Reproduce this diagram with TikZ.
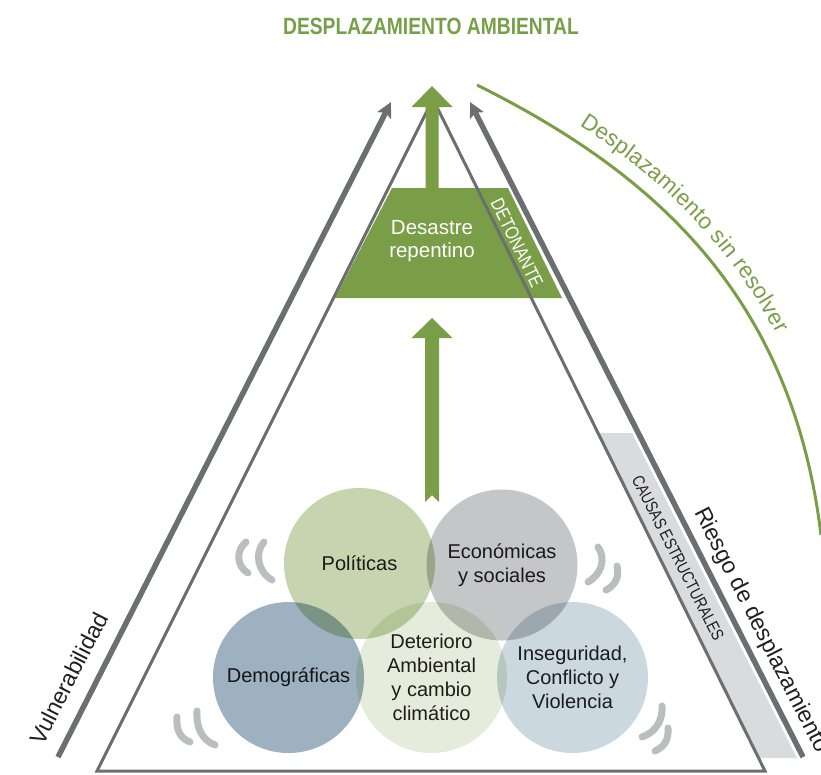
\documentclass[tikz,border=0pt]{standalone}
\usepackage{fontspec}
\setmainfont{Liberation Sans}
\newfontfamily\condfont[FakeStretch=0.82]{Liberation Sans}
\usetikzlibrary{arrows.meta,decorations.text}
\definecolor{mygreen}{RGB}{122,158,72}
\definecolor{titlegreen}{RGB}{118,160,72}
\definecolor{dgray}{RGB}{109,110,114}
\definecolor{markgray}{RGB}{188,189,191}
\definecolor{stripgray}{RGB}{218,219,220}
\definecolor{txt}{RGB}{35,31,32}
\definecolor{cpol}{RGB}{198,213,176}
\definecolor{ceco}{RGB}{197,198,200}
\definecolor{cdem}{RGB}{157,177,192}
\definecolor{cdet}{RGB}{230,236,219}
\definecolor{cins}{RGB}{203,216,224}
\begin{document}
\begin{tikzpicture}[x=1pt,y=-1pt,
  causa/.style={circle, minimum size=151pt, inner sep=0pt, align=center, text=txt, font=\fontsize{20}{24}\selectfont},
  edge/.style={draw=dgray, line width=3pt, line join=miter},
  outerarrow/.style={draw=dgray, line width=5.5pt, -{Stealth[length=15pt,width=15pt,inset=3pt]}},
  markarc/.style={draw=markgray, line width=7pt, line cap=round},
  greenshape/.style={fill=mygreen, draw=none}]
\useasboundingbox (0,0) rectangle (821,774);

% title
\node[font=\condfont\bfseries\fontsize{23.5}{24}\selectfont, text=titlegreen] (title) at (431,26) {DESPLAZAMIENTO AMBIENTAL};

% structural causes strip
\fill[stripgray] (599,433) -- (632,433) -- (797,758) -- (758,758) -- cycle;

% trigger trapezoid
\fill[greenshape] (392,188) -- (508,188) -- (562,298) -- (335,298) -- cycle;

% inner triangle
\coordinate (bl) at (97,771);
\coordinate (apex) at (433,99);
\coordinate (br) at (765,771);
\draw[edge] (bl) -- (apex) -- (br) -- cycle;

% green arrows
\fill[greenshape] (432,86) -- (452.5,107) -- (438.5,107) -- (438.5,190) -- (425.5,190) -- (425.5,107) -- (411.5,107) -- cycle;
\fill[greenshape] (432,318) -- (452.5,338) -- (439,338) -- (439,502) -- (432,495) -- (425,502) -- (425,338) -- (411.5,338) -- cycle;

% outer arrows
\coordinate (vl0) at (58,757);
\coordinate (vl1) at (391,102);
\coordinate (rr0) at (803,757);
\coordinate (rr1) at (470,102);
\draw[outerarrow] (vl0) -- (vl1);
\draw[outerarrow] (rr0) -- (rr1);

% green arc
\coordinate (arc0) at (477,85);
\coordinate (arc1) at (821,535);
\draw[mygreen, line width=3pt] (arc0) .. controls (656,174) and (792,297) .. (arc1);
\path[decorate, decoration={text along path, raise=15pt, text align={left indent=108pt},
  text={|\fontsize{22.5}{22.5}\selectfont\color{mygreen}|Desplazamiento sin resolver}}]
  (arc0) .. controls (656,174) and (792,297) .. (arc1);

% circles
\begin{scope}[blend group=multiply]
\node[causa, fill=cpol] (pol) at (359.5,563.5) {Políticas};
\node[causa, fill=ceco] (eco) at (502,565) {Económicas\\y sociales};
\node[causa, fill=cdem] (dem) at (288.5,677.5) {Demográficas};
\node[causa, fill=cdet] (detc) at (431.5,677.5) {Deterioro\\Ambiental\\y cambio\\climático};
\node[causa, fill=cins] (ins) at (572.5,677.5) {Inseguridad,\\Conflicto y\\Violencia};
\end{scope}

% vibration marks
\draw[markarc] (246,542) .. controls (236,550) and (236,566) .. (248,573);
\draw[markarc] (264,542) .. controls (254,553) and (258,572) .. (272,580);
\draw[markarc] (177,717) .. controls (176,730) and (180,738) .. (190,742);
\draw[markarc] (197,711) .. controls (196,728) and (202,740) .. (215,745);
\draw[markarc] (598,547) .. controls (606,558) and (602,574) .. (588,582);
\draw[markarc] (617,566) .. controls (620,578) and (614,586) .. (606,590);
\draw[markarc] (662,706) .. controls (663,720) and (656,732) .. (642,737);
\draw[markarc] (668,728) .. controls (669,740) and (664,747) .. (655,751);

% texts
\node[text=white, align=center, font=\fontsize{20.5}{23}\selectfont] (des) at (432,241) {Desastre\\repentino};
\node[rotate=-64, text=white, font=\condfont\fontsize{19}{19}\selectfont] (deto) at (517,243) {DETONANTE};
\node[rotate=-63, text=txt, font=\condfont\fontsize{17}{17}\selectfont] (causas) at (678,558) {CAUSAS ESTRUCTURALES};
\node[rotate=-63, anchor=base west, inner sep=0pt, text=txt, font=\fontsize{23}{23}\selectfont] (riesgo) at (694,512) {Riesgo de desplazamiento};
\node[rotate=63, anchor=base west, inner sep=0pt, text=txt, font=\fontsize{23}{23}\selectfont] (vul) at (43,747) {Vulnerabilidad};
\end{tikzpicture}
\end{document}
